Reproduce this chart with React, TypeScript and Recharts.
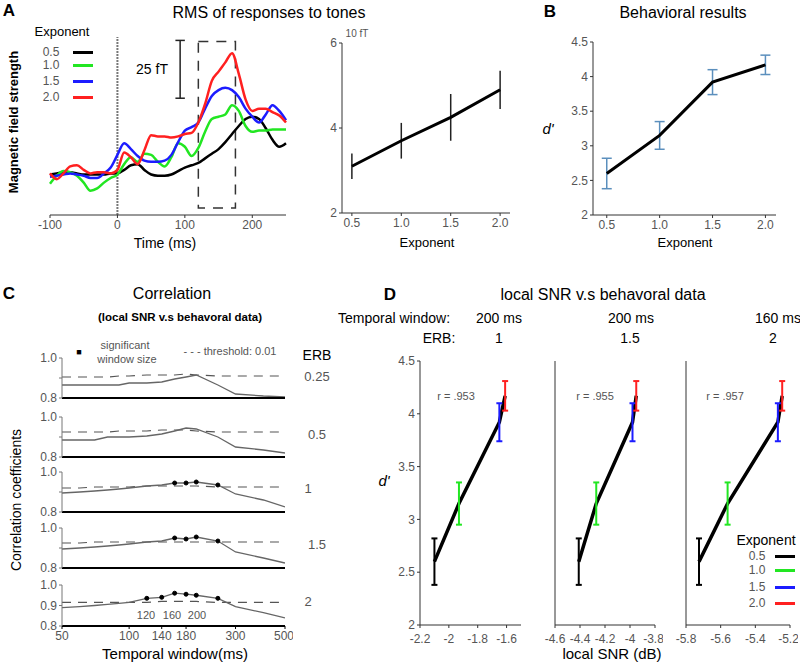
import React from "react";
import {
  LineChart,
  ComposedChart,
  Line,
  Scatter,
  XAxis,
  YAxis,
  ErrorBar,
  ReferenceLine,
  ReferenceArea,
} from "recharts";

const FONT = '"Liberation Sans", Arial, sans-serif';
const GRAY = "#555";

// exponents shared by every panel
const exponents = [0.5, 1.0, 1.5, 2.0];
const expLabels = ["0.5", "1.0", "1.5", "2.0"];
const expColors = ["#000000", "#22e622", "#1c1cff", "#ff2020"];

// Panel A: RMS waveforms (fT above baseline)
const times = [-100, -90, -80, -70, -60, -50, -40, -30, -20, -10, 0, 10, 20, 30, 40, 50, 60, 70, 80, 90, 100, 110, 120, 130, 140, 150, 160, 170, 180, 190, 200, 210, 220, 230, 240, 250];
const rms05 = [17.5, 18, 18.5, 18.5, 18, 17.5, 17.5, 17.5, 17.5, 18, 18, 19.5, 21.5, 22, 19.5, 17.5, 17, 17, 17.5, 19, 20.5, 21.5, 22.5, 24.5, 26.5, 28.5, 31.5, 35, 38.5, 41.5, 42.5, 41.5, 37.5, 32.5, 29.5, 31];
const rms10 = [13.5, 17, 19, 18.5, 17, 14, 10.5, 11.5, 14, 16, 17.5, 22, 25, 23, 26.5, 26, 23, 21, 25, 31, 29.5, 25.5, 29, 36, 41.5, 42.5, 43.5, 47.5, 45, 38.5, 36, 36.5, 36.5, 37, 37, 37];
const rms15 = [16.5, 17, 17.5, 18, 17.5, 17, 16, 16, 18, 20.5, 26, 31, 28.5, 25.5, 23.5, 23, 23, 23.5, 26, 31.5, 36.5, 38, 40, 46, 51.5, 54, 55, 54, 51, 46, 42.5, 40, 43.5, 47.5, 45, 41];
const rms20 = [18, 15.5, 18, 21, 21.5, 19.5, 18, 18.5, 18.5, 18, 19.5, 27, 25, 22, 28, 34.5, 34, 34, 33.5, 34, 35, 35.5, 40, 48, 58, 62, 66, 70, 61, 50, 45, 46, 46, 44.5, 43, 40];

// Panel A inset: peak RMS (10 fT)
const rmsPeak = [3.1, 3.7, 4.25, 4.9];
const rmsPeakErr = [0.3, 0.42, 0.55, 0.45];

// Panel B: behavioral d'
const dprime = [2.6, 3.15, 3.92, 4.17];
const dprimeErr = [0.22, 0.2, 0.18, 0.14];

// Panel C: correlation vs temporal window, per ERB
const windows = [50, 60, 70, 80, 90, 100, 120, 140, 160, 180, 200, 250, 300, 400, 500];
const windowTicks = [50, 100, 140, 180, 250, 300, 500];
const erbLabels = ["0.25", "0.5", "1", "1.5", "2"];
const corrErb025 = [0.865, 0.865, 0.865, 0.865, 0.865, 0.875, 0.875, 0.88, 0.895, 0.905, 0.915, 0.865, 0.82, 0.81, 0.805];
const corrErb05 = [0.885, 0.885, 0.885, 0.9, 0.9, 0.9, 0.905, 0.915, 0.93, 0.945, 0.94, 0.9, 0.85, 0.835, 0.82];
const corrErb1 = [0.895, 0.9, 0.905, 0.91, 0.915, 0.92, 0.93, 0.935, 0.945, 0.945, 0.95, 0.935, 0.89, 0.86, 0.825];
const corrErb15 = [0.895, 0.9, 0.905, 0.91, 0.915, 0.92, 0.93, 0.935, 0.95, 0.945, 0.955, 0.935, 0.88, 0.85, 0.825];
const corrErb2 = [0.89, 0.895, 0.9, 0.905, 0.91, 0.915, 0.935, 0.94, 0.96, 0.955, 0.95, 0.935, 0.895, 0.865, 0.84];
const thrErb025 = [0.905, 0.905, 0.905, 0.905, 0.91, 0.91, 0.915, 0.915, 0.915, 0.92, 0.915, 0.91, 0.91, 0.91, 0.91];
const thrErb05 = [0.925, 0.925, 0.925, 0.925, 0.93, 0.93, 0.93, 0.935, 0.935, 0.935, 0.93, 0.925, 0.925, 0.925, 0.925];
const thrErb1 = [0.92, 0.92, 0.925, 0.925, 0.925, 0.925, 0.93, 0.93, 0.93, 0.93, 0.93, 0.925, 0.925, 0.925, 0.925];
const thrErb15 = [0.925, 0.925, 0.93, 0.93, 0.93, 0.93, 0.93, 0.93, 0.93, 0.93, 0.93, 0.93, 0.93, 0.93, 0.93];
const thrErb2 = [0.915, 0.915, 0.915, 0.915, 0.915, 0.915, 0.915, 0.92, 0.92, 0.92, 0.92, 0.915, 0.915, 0.915, 0.915];
const sigErb1 = [160, 180, 200, 250];
const sigErb15 = [160, 180, 200, 250];
const sigErb2 = [120, 140, 160, 180, 200, 250];
const corrSets = [corrErb025, corrErb05, corrErb1, corrErb15, corrErb2];
const thrSets = [thrErb025, thrErb05, thrErb1, thrErb15, thrErb2];
const sigSets: number[][] = [[], [], sigErb1, sigErb15, sigErb2];

// Panel D: local SNR (dB) per exponent
const snrWin200Erb1 = [-2.1, -1.93, -1.65, -1.61];
const snrWin200Erb15 = [-4.41, -4.27, -3.98, -3.95];
const snrWin160Erb2 = [-5.725, -5.56, -5.27, -5.245];

type Box = { x1: number; x2: number; y1: number; y2: number };
const YW = 44, PAD = 8, XH = 30;
const at = (b: Box): React.CSSProperties => ({ position: "absolute", left: b.x1 - YW, top: b.y1 - PAD });
const size = (b: Box) => ({
  width: b.x2 - b.x1 + YW + PAD,
  height: b.y2 - b.y1 + PAD + XH,
  margin: { top: PAD, right: PAD, bottom: 0, left: 0 },
});
const tickStyle = { fill: GRAY, fontSize: 12 };

const T = ({ x, y, children, size = 14, color = "#000", bold = false, italic = false, rotate = 0 }: any) => (
  <div
    style={{
      position: "absolute",
      left: x,
      top: y,
      transform: `translate(-50%, -50%) rotate(${rotate}deg)`,
      fontSize: size,
      color,
      fontWeight: bold ? 700 : 400,
      fontStyle: italic ? "italic" : "normal",
      whiteSpace: "nowrap",
      lineHeight: 1,
    }}
  >
    {children}
  </div>
);

const Swatch = ({ x, y, color }: { x: number; y: number; color: string }) => (
  <div style={{ position: "absolute", left: x, top: y - 1.5, width: 20, height: 3, background: color }} />
);

const waveData = times.map((t, i) => ({ t, r0: rms05[i], r1: rms10[i], r2: rms15[i], r3: rms20[i] }));
const boxA: Box = { x1: 50, x2: 286, y1: 30, y2: 215 };
const boxAi: Box = { x1: 342, x2: 510, y1: 43, y2: 213 };
const boxB: Box = { x1: 593, x2: 776, y1: 42, y2: 215 };
const cBoxes: Box[] = [
  { x1: 62, x2: 285, y1: 358, y2: 398 },
  { x1: 62, x2: 285, y1: 417, y2: 457 },
  { x1: 62, x2: 285, y1: 472, y2: 512 },
  { x1: 62, x2: 285, y1: 528, y2: 568 },
  { x1: 62, x2: 285, y1: 585, y2: 626 },
];
const dPanels = [
  { box: { x1: 420, x2: 521, y1: 361, y2: 625 }, snr: snrWin200Erb1, domain: [-2.2, -1.5], ticks: [-2.2, -2, -1.8, -1.6] },
  { box: { x1: 555, x2: 655, y1: 361, y2: 625 }, snr: snrWin200Erb15, domain: [-4.6, -3.8], ticks: [-4.6, -4.4, -4.2, -4, -3.8] },
  { box: { x1: 686, x2: 790, y1: 361, y2: 625 }, snr: snrWin160Erb2, domain: [-5.8, -5.2], ticks: [-5.8, -5.6, -5.4, -5.2] },
];

const WaveChart = () => (
  <div style={at(boxA)}>
    <LineChart {...size(boxA)} data={waveData}>
      <XAxis dataKey="t" type="number" domain={[-100, 250]} ticks={[-100, 0, 100, 200]} height={XH}
        tick={tickStyle} tickSize={3} stroke="#333" />
      <YAxis type="number" domain={[0, 80]} width={YW} axisLine={false} tick={false} tickLine={false} />
      <ReferenceLine segment={[{ x: 0, y: 0 }, { x: 0, y: 77 }]} stroke="#777" strokeWidth={2} strokeDasharray="2 1" />
      <ReferenceArea x1={120} x2={175} y1={3} y2={75} fill="none" stroke="#333" strokeWidth={1.5} strokeDasharray="10 8" />
      <ReferenceLine segment={[{ x: 93, y: 50.5 }, { x: 93, y: 75.5 }]} stroke="#222" strokeWidth={1.5} />
      <ReferenceLine segment={[{ x: 86, y: 75.5 }, { x: 100, y: 75.5 }]} stroke="#222" strokeWidth={1.5} />
      <ReferenceLine segment={[{ x: 86, y: 50.5 }, { x: 100, y: 50.5 }]} stroke="#222" strokeWidth={1.5} />
      {["r0", "r1", "r2", "r3"].map((k, i) => (
        <Line key={k} dataKey={k} type="monotone" stroke={expColors[i]} strokeWidth={2.5} dot={false} isAnimationActive={false} />
      ))}
    </LineChart>
  </div>
);

const PeakChart = () => (
  <div style={at(boxAi)}>
    <LineChart {...size(boxAi)} data={exponents.map((e, i) => ({ e, v: rmsPeak[i], err: rmsPeakErr[i] }))}>
      <XAxis dataKey="e" type="number" domain={[0.4, 2.1]} ticks={exponents} tickFormatter={(v) => v.toFixed(1)}
        height={XH} tick={tickStyle} tickSize={3} stroke="#333" />
      <YAxis type="number" domain={[2, 6]} ticks={[2, 4, 6]} width={YW} tick={tickStyle} tickSize={3} stroke="#333" />
      <Line dataKey="v" stroke="#000" strokeWidth={3} dot={false} isAnimationActive={false}>
        <ErrorBar dataKey="err" direction="y" width={0} stroke="#222" strokeWidth={1.5} />
      </Line>
    </LineChart>
  </div>
);

const BehavChart = () => (
  <div style={at(boxB)}>
    <LineChart {...size(boxB)} data={exponents.map((e, i) => ({ e, v: dprime[i], err: dprimeErr[i] }))}>
      <XAxis dataKey="e" type="number" domain={[0.37, 2.1]} ticks={exponents} tickFormatter={(v) => v.toFixed(1)}
        height={XH} tick={tickStyle} tickSize={3} stroke="#333" />
      <YAxis type="number" domain={[2, 4.5]} ticks={[2, 2.5, 3, 3.5, 4, 4.5]} width={YW} tick={tickStyle} tickSize={3} stroke="#333" />
      <Line dataKey="v" stroke="#000" strokeWidth={3} dot={false} isAnimationActive={false}>
        <ErrorBar dataKey="err" direction="y" width={5} stroke="#5b8fbd" strokeWidth={1.5} />
      </Line>
    </LineChart>
  </div>
);

const CorrChart = ({ idx }: { idx: number }) => {
  const b = cBoxes[idx];
  const last = idx === cBoxes.length - 1;
  const data = windows.map((w, i) => ({
    w,
    corr: corrSets[idx][i],
    thr: thrSets[idx][i],
    sig: sigSets[idx].includes(w) ? corrSets[idx][i] : null,
  }));
  return (
    <div style={at(b)}>
      <LineChart {...size(b)} data={data}>
        <XAxis dataKey="w" type="number" scale="log" domain={[50, 500]} ticks={windowTicks} height={XH}
          tick={last ? tickStyle : false} tickLine={last} tickSize={3} stroke="#000"
          axisLine={{ stroke: "#000", strokeWidth: 2 }} allowDataOverflow />
        <YAxis type="number" domain={[0.8, 1.0]} ticks={[0.8, 0.9, 1.0]} width={YW} tick={tickStyle} tickSize={3}
          stroke="#777" tickFormatter={(v) => (Math.abs(v - 0.9) < 1e-6 && !last ? "" : v.toFixed(1))} />
        <Line dataKey="thr" stroke="#555" strokeWidth={1.2} strokeDasharray="9 7" dot={false} isAnimationActive={false} />
        <Line dataKey="corr" stroke="#666" strokeWidth={1.3} dot={false} isAnimationActive={false} />
        <Line dataKey="sig" stroke="none" dot={{ r: 2, fill: "#000", stroke: "#000" }} isAnimationActive={false} />
      </LineChart>
    </div>
  );
};

const SnrChart = ({ idx }: { idx: number }) => {
  const p = dPanels[idx];
  const b = p.box as Box;
  const data = exponents.map((e, i) => ({ x: p.snr[i], y: dprime[i], err: dprimeErr[i] }));
  return (
    <div style={at(b)}>
      <ComposedChart {...size(b)} data={data}>
        <XAxis dataKey="x" type="number" domain={p.domain} ticks={p.ticks} height={XH} tick={tickStyle}
          tickFormatter={(v) => String(Math.round(v * 10) / 10)} tickSize={3} tickMargin={6} stroke="#333" allowDataOverflow />
        <YAxis type="number" domain={[2, 4.5]} ticks={[2, 2.5, 3, 3.5, 4, 4.5]} width={YW}
          tick={idx === 0 ? tickStyle : false} tickSize={3} stroke="#333" />
        <Line dataKey="y" stroke="#000" strokeWidth={3.5} dot={false} isAnimationActive={false} />
        {data.map((d, i) => (
          <Scatter key={i} data={[d]} dataKey="y" shape={() => <g />} isAnimationActive={false}>
            <ErrorBar dataKey="err" direction="y" width={3} stroke={expColors[i]} strokeWidth={2} />
          </Scatter>
        ))}
      </ComposedChart>
    </div>
  );
};

export default function App() {
  return (
    <div style={{ position: "absolute", left: 0, top: 0, width: 800, height: 664, background: "#fff", fontFamily: FONT, overflow: "hidden" }}>
      <WaveChart />
      <PeakChart />
      <BehavChart />
      {cBoxes.map((_, i) => <CorrChart key={i} idx={i} />)}
      {dPanels.map((_, i) => <SnrChart key={i} idx={i} />)}

      {/* Panel A */}
      <T x={9} y={10} size={17} bold>A</T>
      <T x={269} y={13} size={16}>RMS of responses to tones</T>
      <T x={13} y={122} size={13} bold rotate={-90}>Magnetic field strength</T>
      <T x={62} y={31} size={13}>Exponent</T>
      {expLabels.map((l, i) => (
        <React.Fragment key={l}>
          <T x={51} y={[52, 65, 81, 97][i]} size={12} color={GRAY}>{l}</T>
          <Swatch x={73} y={[52, 65, 81, 97][i]} color={expColors[i]} />
        </React.Fragment>
      ))}
      <T x={152} y={69} size={14}>25 fT</T>
      <T x={165} y={243} size={14}>Time (ms)</T>
      <T x={357} y={34} size={10} color={GRAY}>10 fT</T>
      <T x={427} y={242} size={13}>Exponent</T>

      {/* Panel B */}
      <T x={550} y={11} size={17} bold>B</T>
      <T x={683} y={13} size={16}>Behavioral results</T>
      <T x={548} y={128} size={15} italic>d'</T>
      <T x={685} y={242} size={13}>Exponent</T>

      {/* Panel C */}
      <T x={9} y={293} size={17} bold>C</T>
      <T x={172} y={294} size={16}>Correlation</T>
      <T x={180} y={318} size={11.5} bold>(local SNR v.s behavoral data)</T>
      <T x={79} y={352} size={9}>■</T>
      <T x={125} y={345} size={11} color={GRAY}>significant</T>
      <T x={127} y={359} size={11} color={GRAY}>window size</T>
      <T x={230} y={351} size={11} color={GRAY}>- - -  threshold: 0.01</T>
      <T x={317} y={355} size={14}>ERB</T>
      {erbLabels.map((l, i) => (
        <T key={l} x={l.length > 2 ? 317 : l.length > 1 ? 313 : 308} y={[376, 434, 488, 544, 601][i]} size={13} color={GRAY}>{l}</T>
      ))}
      <T x={16} y={500} size={14} rotate={-90}>Correlation coefficients</T>
      <T x={146} y={615} size={11} color={GRAY}>120</T>
      <T x={172} y={615} size={11} color={GRAY}>160</T>
      <T x={197} y={615} size={11} color={GRAY}>200</T>
      <T x={175} y={653} size={15}>Temporal window(ms)</T>

      {/* Panel D */}
      <T x={390} y={294} size={17} bold>D</T>
      <T x={603} y={295} size={16}>local SNR v.s behavoral data</T>
      <T x={394} y={318} size={14}>Temporal window:</T>
      <T x={439} y={338} size={14}>ERB:</T>
      <T x={499} y={318} size={14}>200 ms</T>
      <T x={499} y={338} size={14}>1</T>
      <T x={631} y={318} size={14}>200 ms</T>
      <T x={630} y={338} size={14}>1.5</T>
      <T x={778} y={318} size={14}>160 ms</T>
      <T x={773} y={338} size={14}>2</T>
      <T x={456} y={396} size={11} color={GRAY}>r = .953</T>
      <T x={595} y={396} size={11} color={GRAY}>r = .955</T>
      <T x={725} y={396} size={11} color={GRAY}>r = .957</T>
      <T x={384} y={480} size={15} italic>d'</T>
      <T x={612} y={653} size={15}>local SNR (dB)</T>
      <T x={766} y={540} size={14}>Exponent</T>
      {expLabels.map((l, i) => (
        <React.Fragment key={"d" + l}>
          <T x={757} y={[556, 570, 587, 603][i]} size={12} color={GRAY}>{l}</T>
          <Swatch x={775} y={[556, 570, 587, 603][i]} color={expColors[i]} />
        </React.Fragment>
      ))}
    </div>
  );
}
